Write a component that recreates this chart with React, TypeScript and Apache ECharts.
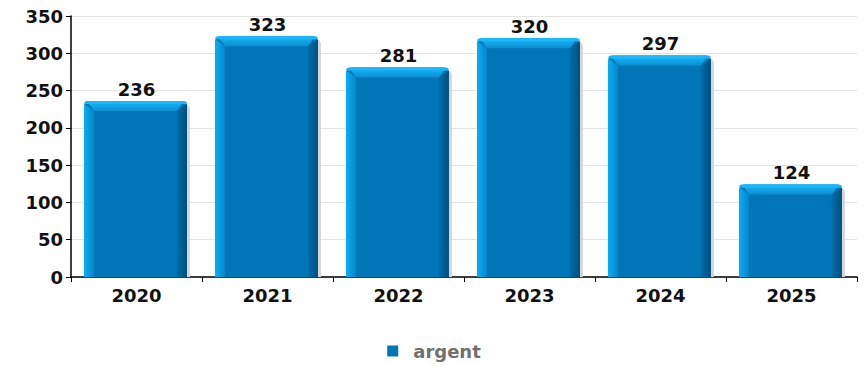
import React, { useEffect, useRef } from "react";
import * as echarts from "echarts";

const categories = ["2020", "2021", "2022", "2023", "2024", "2025"];
const values = [236, 323, 281, 320, 297, 124];
const seriesName = "argent";

export default function App() {
  const ref = useRef<HTMLDivElement>(null);
  useEffect(() => {
    document.body.style.margin = "0";
    const chart = echarts.init(ref.current!, null, { renderer: "svg" });
    const font = "DejaVu Sans";
    chart.setOption({
      animation: false,
      grid: { left: 71, right: 11, top: 16, bottom: 89 },
      legend: {
        top: 337,
        left: "center",
        icon: "rect",
        itemWidth: 11,
        itemHeight: 11,
        itemGap: 10,
        textStyle: { color: "#707070", fontWeight: "bold", fontSize: 18, fontFamily: font, padding: [0, 0, 0, 10] },
        data: [{ name: seriesName, itemStyle: { color: "#0076b6" } }],
      },
      xAxis: {
        type: "category",
        data: categories,
        axisLine: { lineStyle: { color: "#000", width: 1.5 } },
        axisTick: { show: true, length: 5, lineStyle: { color: "#000" }, alignWithLabel: false },
        axisLabel: { color: "#111", fontWeight: "bold", fontSize: 18, fontFamily: font, margin: 9 },
      },
      yAxis: {
        type: "value",
        min: 0,
        max: 350,
        interval: 50,
        axisLine: { show: true, lineStyle: { color: "#000", width: 1.5 } },
        axisTick: { show: true, length: 5, lineStyle: { color: "#000" } },
        axisLabel: { color: "#111", fontWeight: "bold", fontSize: 18, fontFamily: font, margin: 8 },
        splitLine: { lineStyle: { color: "#e4e4e4" } },
      },
      series: [
        {
          type: "custom",
          name: seriesName,
          itemStyle: { color: "#0076b6" },
          data: values.map((v, i) => [i, v]),
          encode: { x: 0, y: 1 },
          renderItem: (params: any, api: any) => {
            const idx = api.value(0);
            const val = api.value(1);
            const top = api.coord([idx, val]);
            const base = api.coord([idx, 0]);
            const band = api.size([1, 0])[0];
            const w = band * 0.785;
            const x = top[0] - w / 2 - 1;
            const y = top[1];
            const h = base[1] - top[1];
            const b = 10;
            return {
              type: "group",
              children: [
                {
                  type: "rect",
                  shape: { x: x + 3, y: y + 3, width: w, height: h - 3, r: [5, 5, 0, 0] },
                  style: { fill: "#d6d6d6" },
                },
                {
                  type: "rect",
                  shape: { x, y, width: w, height: h, r: [6, 6, 0, 0] },
                  style: { fill: "#0076b6" },
                },
                {
                  type: "polygon",
                  shape: { points: [[x + 3, y], [x + w - 3, y], [x + w - b, y + b], [x + b, y + b]] },
                  style: {
                    fill: new echarts.graphic.LinearGradient(0, 0, 0, 1, [
                      { offset: 0, color: "#1ab8fa" },
                      { offset: 1, color: "#0a8ed2" },
                    ]),
                  },
                },
                {
                  type: "rect",
                  shape: { x, y, width: w, height: 3, r: [6, 6, 0, 0] },
                  style: { fill: "#1ab8fa" },
                },
                {
                  type: "polygon",
                  shape: { points: [[x, y + 3], [x + b, y + b], [x + b, y + h], [x, y + h]] },
                  style: {
                    fill: new echarts.graphic.LinearGradient(0, 0, 1, 0, [
                      { offset: 0, color: "#06b0f8" },
                      { offset: 1, color: "#0a84c6" },
                    ]),
                  },
                },
                {
                  type: "polygon",
                  shape: { points: [[x + w, y + 3], [x + w - b, y + b], [x + w - b, y + h], [x + w, y + h]] },
                  style: {
                    fill: new echarts.graphic.LinearGradient(0, 0, 1, 0, [
                      { offset: 0, color: "#006ca8" },
                      { offset: 1, color: "#00507e" },
                    ]),
                  },
                },
                {
                  type: "text",
                  style: {
                    x: top[0],
                    y: y - 3,
                    text: String(val),
                    align: "center",
                    verticalAlign: "bottom",
                    fill: "#111",
                    font: "bold 18px 'DejaVu Sans'",
                  },
                },
              ],
            };
          },
        },
      ],
    });
    return () => chart.dispose();
  }, []);
  return <div ref={ref} style={{ width: 868, height: 366 }} />;
}
